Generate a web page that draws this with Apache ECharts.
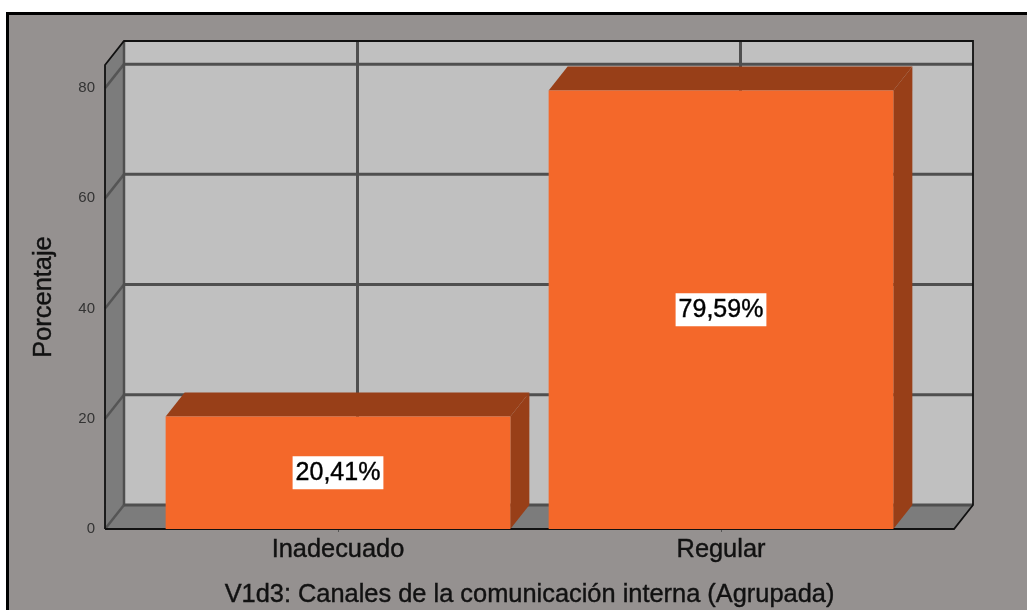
<!DOCTYPE html>
<html>
<head>
<meta charset="utf-8">
<script src="https://cdn.jsdelivr.net/npm/echarts@6/dist/echarts.min.js"></script>
<style>
html, body { margin: 0; padding: 0; background: #fff; overflow: hidden; }
#frame {
  position: absolute; left: 6px; top: 12px; width: 1030px; height: 610px;
  background: #959190; border: 3px solid #000;
}
#chart { position: absolute; left: 0; top: 0; width: 1027px; height: 610px; }
</style>
</head>
<body>
<div id="frame"></div>
<div id="chart"></div>
<script>
const categories = ["Inadecuado", "Regular"];
const percentages = [20.41, 79.59];
const pctLabels = ["20,41%", "79,59%"];
const yTicks = [0, 20, 40, 60, 80];
const yMax = 84.2;

const xTitle = "V1d3: Canales de la comunicación interna (Agrupada)";
const yTitle = "Porcentaje";

// 3d look of the old SPSS chart
const depthX = 19;
const depthY = 24;
const sidePad = 41.5;
const FONT = "Liberation Sans";

function line(x1, y1, x2, y2, stroke, width) {
  return {
    type: "line",
    shape: { x1, y1, x2, y2 },
    style: { stroke, lineWidth: width },
  };
}

function poly(points, fill) {
  return { type: "polygon", shape: { points }, style: { fill } };
}

function renderWalls(params, api) {
  const sys = params.coordSys;
  const left = sys.x - sidePad;
  const right = sys.x + sys.width + sidePad;
  const y0 = api.coord([0, 0])[1];
  const yTop = api.coord([0, yMax])[1];
  const children = [
    poly([[left + depthX, yTop - depthY], [right + depthX, yTop - depthY], [right + depthX, y0 - depthY], [left + depthX, y0 - depthY]], "#c0c0c0"),
    poly([[left, yTop], [left + depthX, yTop - depthY], [left + depthX, y0 - depthY], [left, y0]], "#7c7c7c"),
    poly([[left, y0], [left + depthX, y0 - depthY], [right + depthX, y0 - depthY], [right, y0]], "#7c7c7c"),
  ];
  yTicks.forEach((v) => {
    const y = api.coord([0, v])[1];
    children.push(line(left, y, left + depthX, y - depthY, "#555", 2.5));
    children.push(line(left + depthX, y - depthY, right + depthX, y - depthY, "#4f4f4f", 3));
  });
  categories.forEach((c, i) => {
    const x = api.coord([i, 0])[0] + depthX + 0.5;
    children.push(line(x, yTop - depthY, x, y0 - depthY, "#4f4f4f", 3));
  });
  children.push(line(left + depthX, yTop - depthY, left + depthX, y0 - depthY, "#4f4f4f", 2.5));
  children.push({
    type: "polyline",
    shape: {
      points: [[left, y0], [left, yTop], [left + depthX, yTop - depthY], [right + depthX, yTop - depthY], [right + depthX, y0 - depthY], [right, y0], [left, y0]],
    },
    style: { fill: null, stroke: "#111", lineWidth: 1.8 },
  });
  return { type: "group", children };
}

function renderBar(params, api) {
  const i = api.value(0);
  const v = api.value(1);
  const base = api.coord([i, 0]);
  const top = api.coord([i, v]);
  const w = api.size([1, 0])[0] * 0.9;
  const x1 = base[0] - w / 2;
  const x2 = base[0] + w / 2;
  return {
    type: "group",
    children: [
      poly([[x1, top[1]], [x1 + depthX, top[1] - depthY], [x2 + depthX, top[1] - depthY], [x2, top[1]]], "#983f18"),
      poly([[x2, top[1]], [x2 + depthX, top[1] - depthY], [x2 + depthX, base[1] - depthY], [x2, base[1]]], "#983f18"),
      poly([[x1, top[1]], [x2, top[1]], [x2, base[1]], [x1, base[1]]], "#f4682a"),
      {
        type: "text",
        style: {
          x: base[0],
          y: (top[1] + base[1]) / 2,
          text: pctLabels[i],
          align: "center",
          verticalAlign: "middle",
          font: "25px " + FONT,
          fill: "#000",
          stroke: "#000",
          lineWidth: 0.4,
          backgroundColor: "#fff",
          padding: [5, 3, 3, 3],
        },
      },
    ],
  };
}

const chart = echarts.init(document.getElementById("chart"));
chart.setOption({
  animation: false,
  backgroundColor: "transparent",
  grid: { left: 146.5, width: 766, top: 65, height: 464, outerBoundsMode: "none" },
  xAxis: {
    type: "category",
    data: categories,
    axisLine: { show: false },
    axisTick: { show: true, alignWithLabel: true, length: 3, lineStyle: { color: "#555" } },
    axisLabel: { fontFamily: FONT, fontSize: 25.4, color: "#111", margin: 8, textBorderColor: "#111", textBorderWidth: 0.4 },
    name: xTitle,
    nameLocation: "middle",
    nameGap: 53,
    nameTextStyle: { fontFamily: FONT, fontSize: 25.4, color: "#111", textBorderColor: "#111", textBorderWidth: 0.4 },
  },
  yAxis: {
    type: "value",
    min: 0,
    max: yMax,
    interval: 20,
    offset: sidePad,
    axisLine: { show: false },
    axisTick: { show: false },
    splitLine: { show: false },
    axisLabel: { fontFamily: FONT, fontSize: 15, color: "#333", margin: 10, padding: [0, 0, 2, 0], showMaxLabel: false },
    name: yTitle,
    nameLocation: "middle",
    nameGap: 49,
    nameTextStyle: { fontFamily: FONT, fontSize: 25.4, color: "#111", textBorderColor: "#111", textBorderWidth: 0.4 },
  },
  series: [
    { type: "custom", silent: true, z: 1, data: [[0, 0]], renderItem: renderWalls },
    { type: "custom", silent: true, z: 2, data: percentages.map((v, i) => [i, v]), renderItem: renderBar },
  ],
});
</script>
</body>
</html>
